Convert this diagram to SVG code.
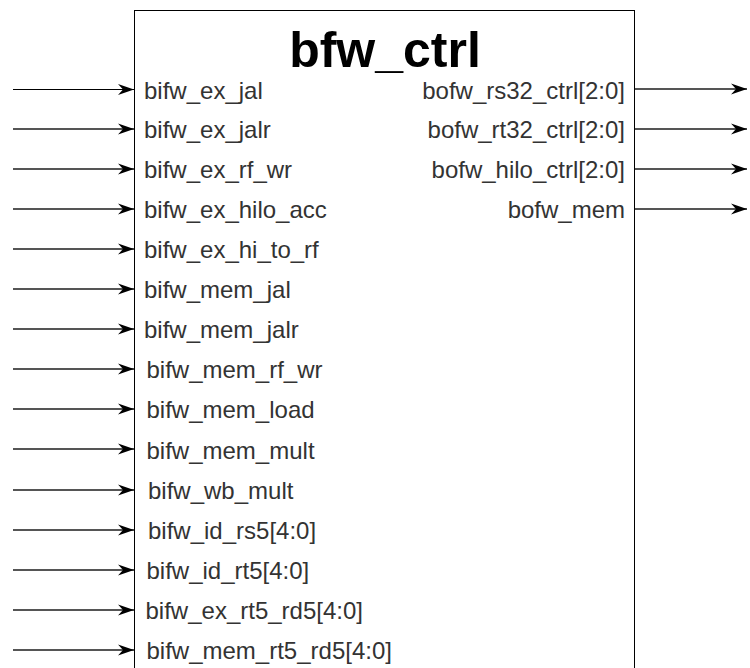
<svg xmlns="http://www.w3.org/2000/svg" width="750" height="668" viewBox="0 0 750 668">
<defs>
<marker id="arr" markerUnits="userSpaceOnUse" viewBox="0 0 16 12" markerWidth="16" markerHeight="12" refX="16" refY="6" orient="auto">
<path d="M16,6 L0,0.5 L5,6 L0,11.5 Z" fill="#000"/>
</marker>
<style>
.lbl{font-family:"Liberation Sans",Arial,sans-serif;font-size:24px;fill:#333}
.ttl{font-family:"Liberation Sans",Arial,sans-serif;font-size:50px;font-weight:bold;fill:#000}
.r{text-anchor:end}
</style>
</defs>
<rect width="750" height="668" fill="#fff"/>
<g id="bfw_ctrl">
<rect x="134.5" y="10.5" width="500" height="700" fill="#fff" stroke="#000" stroke-width="1"/>
<text class="ttl" x="385" y="67" text-anchor="middle">bfw_ctrl</text>
<text class="lbl" x="144" y="99">bifw_ex_jal</text>
<text class="lbl" x="144" y="138">bifw_ex_jalr</text>
<text class="lbl" x="144" y="178">bifw_ex_rf_wr</text>
<text class="lbl" x="144" y="218">bifw_ex_hilo_acc</text>
<text class="lbl" x="144" y="258">bifw_ex_hi_to_rf</text>
<text class="lbl" x="144" y="298">bifw_mem_jal</text>
<text class="lbl" x="144" y="338">bifw_mem_jalr</text>
<text class="lbl" x="146.5" y="378">bifw_mem_rf_wr</text>
<text class="lbl" x="146.5" y="418">bifw_mem_load</text>
<text class="lbl" x="146.5" y="459">bifw_mem_mult</text>
<text class="lbl" x="148" y="499">bifw_wb_mult</text>
<text class="lbl" x="148" y="539">bifw_id_rs5[4:0]</text>
<text class="lbl" x="146.5" y="579">bifw_id_rt5[4:0]</text>
<text class="lbl" x="145.5" y="619">bifw_ex_rt5_rd5[4:0]</text>
<text class="lbl" x="146.5" y="659">bifw_mem_rt5_rd5[4:0]</text>
<text class="lbl r" x="625" y="99">bofw_rs32_ctrl[2:0]</text>
<text class="lbl r" x="625" y="138">bofw_rt32_ctrl[2:0]</text>
<text class="lbl r" x="625" y="178">bofw_hilo_ctrl[2:0]</text>
<text class="lbl r" x="625" y="218">bofw_mem</text>
</g>
<g id="connectors" fill="none" stroke="#555" stroke-width="2" marker-end="url(#arr)">
<path d="M13,89.5 H134" stroke="#000" stroke-width="1"/>
<path d="M13,129 H134"/>
<path d="M13,169 H134"/>
<path d="M13,209 H134"/>
<path d="M13,249 H134"/>
<path d="M13,289 H134"/>
<path d="M13,329 H134"/>
<path d="M13,369 H134"/>
<path d="M13,409 H134"/>
<path d="M13,449 H134"/>
<path d="M13,490 H134"/>
<path d="M13,530 H134"/>
<path d="M13,570 H134"/>
<path d="M13,610 H134"/>
<path d="M13,650 H134"/>
<path d="M635,89 H747"/>
<path d="M635,129 H747"/>
<path d="M635,169 H747"/>
<path d="M635,209 H747"/>
</g>
</svg>
